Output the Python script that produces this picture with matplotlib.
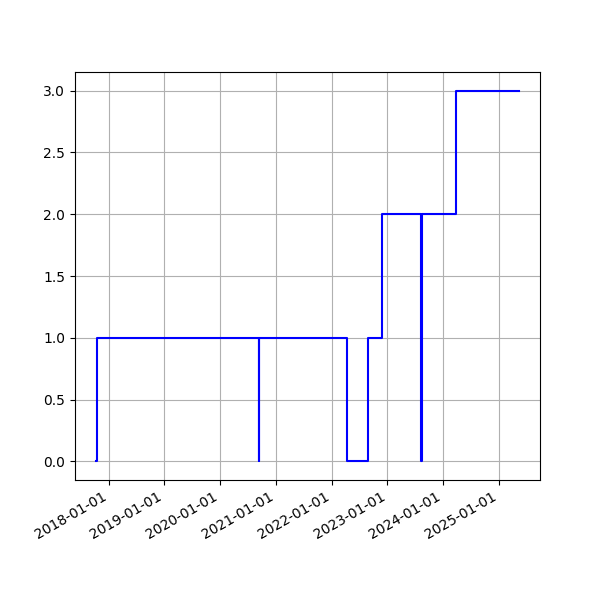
import matplotlib
matplotlib.use("Agg")
import matplotlib.pyplot as plt
import matplotlib.dates as mdates
import numpy as np

dates = np.array(["2017-10-12", "2017-10-18", "2020-09-12", "2020-09-13",
                  "2022-04-08", "2022-08-27", "2022-11-23", "2023-08-10",
                  "2023-08-12", "2024-03-24", "2025-05-10"], dtype="datetime64[D]")
values = [0, 1, 0, 1, 0, 1, 2, 0, 2, 3, 3]

fig, ax = plt.subplots(figsize=(6, 6), dpi=100)
ax.plot(dates, values, drawstyle="steps-post", color="blue")

ax.xaxis.set_major_locator(mdates.YearLocator())
ax.xaxis.set_major_formatter(mdates.DateFormatter("%Y-%m-%d"))
ax.grid(True)
fig.autofmt_xdate()

plt.savefig("out.png")
